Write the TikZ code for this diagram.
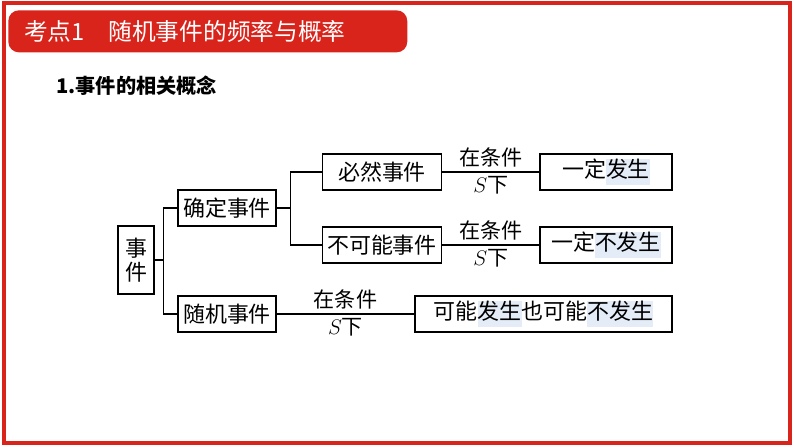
\documentclass[tikz,border=0pt]{standalone}
\usepackage{fontspec}
\usetikzlibrary{positioning, calc}
\newfontfamily\cjk{Noto Sans CJK SC}
\definecolor{slidered}{RGB}{217, 36, 28}
\definecolor{marklight}{RGB}{228, 236, 247}
\newcommand{\markpart}[1]{{\setlength{\fboxsep}{0pt}\colorbox{marklight}{\strut #1}}}

\begin{document}
\begin{tikzpicture}[
    x=0.02cm, y=-0.02cm,
    font=\cjk\fontsize{12.5}{14}\selectfont,
    % Styles
    eventbox/.style={
        rectangle,
        draw=black,
        line width=0.8pt,
        inner sep=1pt,
        minimum height=0.72cm
    },
    link/.style={
        line width=0.8pt
    },
    condtext/.style={
        font=\cjk\fontsize{12}{14}\selectfont
    }
]
\useasboundingbox (0,0) rectangle (794,447);

% --- Slide frame and header ---
\draw [slidered, line width=2.5pt] (4,3) rectangle (790,443);
\node (header) [fill=slidered, rounded corners=6pt, minimum width=7.98cm, minimum height=0.84cm, anchor=north west] at (8,10) {};
\node (headtext) [text=white, anchor=west, font=\cjk\fontsize{13.5}{15}\selectfont] at (18,31) {考点1\quad 随机事件的频率与概率};
\node (title) [anchor=west, font=\cjk\bfseries\fontsize{11.5}{14}\selectfont] at (50,86) {1.事件的相关概念};

% --- Boxes ---
\node (event) [eventbox, minimum width=0.72cm, minimum height=1.36cm, align=center] at (136,260) {事\\件};
\node (sure) [eventbox, minimum width=1.96cm] at (227,208) {确定事件};
\node (random) [eventbox, minimum width=1.96cm] at (227,314) {随机事件};
\node (certain) [eventbox, minimum width=2.38cm] at (382,172) {必然事件};
\node (impossible) [eventbox, minimum width=2.38cm] at (382,245) {不可能事件};
\node (happen) [eventbox, minimum width=2.64cm] at (606,172) {一定\markpart{发生}};
\node (nothappen) [eventbox, minimum width=2.64cm] at (606,245) {一定\markpart{不发生}};
\node (maybe) [eventbox, minimum width=5.14cm] at (543.5,314) {可能\markpart{发生}也可能\markpart{不发生}};

% --- Connections ---
\draw [link] (event.east) -- ++(9,0) |- (sure.west);
\draw [link] (event.east) -- ++(9,0) |- (random.west);
\draw [link] (sure.east) -- ++(14,0) |- (certain.west);
\draw [link] (sure.east) -- ++(14,0) |- (impossible.west);
\draw [link] (certain) -- node[condtext, above=-1pt] {在条件} node[condtext, below=-1pt] {$S$下} (happen);
\draw [link] (impossible) -- node[condtext, above=-1pt] {在条件} node[condtext, below=-1pt] {$S$下} (nothappen);
\draw [link] (random) -- node[condtext, above=-1pt] {在条件} node[condtext, below=-1pt] {$S$下} (maybe);

\end{tikzpicture}
\end{document}
